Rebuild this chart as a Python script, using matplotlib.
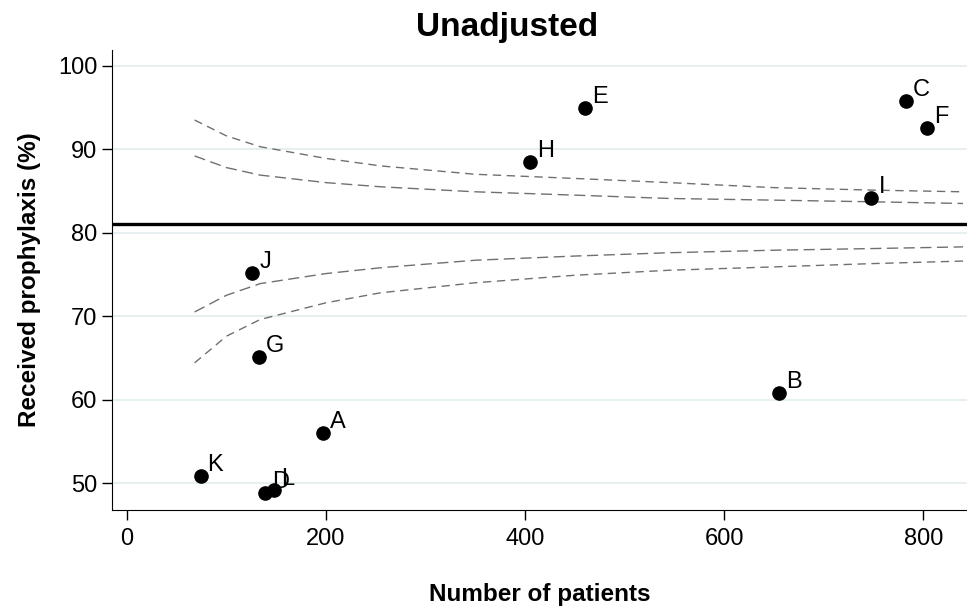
import matplotlib.pyplot as plt

plt.rcParams['font.family'] = ['Liberation Sans', 'DejaVu Sans']

# hospitals: label, number of patients, % received prophylaxis
labels = ['A', 'B', 'C', 'D', 'E', 'F', 'G', 'H', 'I', 'J', 'K', 'L']
patients = [197, 655, 783, 139, 460, 804, 133, 405, 748, 126, 74, 148]
received = [56.0, 60.8, 95.8, 48.8, 95.0, 92.6, 65.1, 88.5, 84.2, 75.2, 50.8, 49.2]

overall = 81.0

# control limits
limit_n = [68, 100, 134, 200, 255, 350, 450, 545, 650, 750, 840]
upper_outer = [93.5, 91.6, 90.3, 88.9, 88.0, 87.0, 86.5, 86.0, 85.4, 85.1, 84.9]
upper_inner = [89.2, 87.8, 86.9, 86.0, 85.5, 84.9, 84.5, 84.1, 83.9, 83.7, 83.5]
lower_inner = [70.5, 72.5, 73.9, 75.1, 75.8, 76.7, 77.2, 77.6, 77.9, 78.1, 78.3]
lower_outer = [64.4, 67.6, 69.6, 71.6, 72.8, 74.0, 74.9, 75.5, 75.9, 76.3, 76.6]

fig = plt.figure(figsize=(9.67, 6.09), dpi=100)
ax = fig.add_axes([0.1158, 0.163, 0.8842, 0.755])

for v in [50, 60, 70, 80, 90, 100]:
    ax.axhline(v, color='#e2eeee', lw=1.2, zorder=0)

ax.plot(limit_n, upper_outer, color='#707070', lw=1.0, dashes=(6, 4))
ax.plot(limit_n, lower_outer, color='#707070', lw=1.0, dashes=(6, 4))
ax.plot(limit_n, upper_inner, color='#707070', lw=1.0, dashes=(8, 4))
ax.plot(limit_n, lower_inner, color='#707070', lw=1.0, dashes=(8, 4))

ax.axhline(overall, color='black', lw=2.4, zorder=3)

ax.plot(patients, received, 'o', color='black', ms=9.5, zorder=4)
for lab, x, y in zip(labels, patients, received):
    ax.annotate(lab, (x, y), xytext=(5, 0), textcoords='offset points',
                ha='left', va='bottom', fontsize=17, zorder=5)

ax.set_xlim(-15, 844)
ax.set_ylim(46.8, 101.9)
ax.set_xticks([0, 200, 400, 600, 800])
ax.set_yticks([50, 60, 70, 80, 90, 100])
ax.tick_params(labelsize=17, length=7, width=1)
ax.tick_params(axis='x', pad=6)
ax.spines['top'].set_visible(False)
ax.spines['right'].set_visible(False)

ax.set_xlabel('Number of patients', fontsize=17.5, fontweight='bold', labelpad=24)
ax.set_ylabel('Received prophylaxis (%)', fontsize=17.5, fontweight='bold', labelpad=12)
fig.text(0.524, 0.955, 'Unadjusted', ha='center', va='center',
         fontsize=24, fontweight='bold')

fig.savefig('out.png', dpi=100)
